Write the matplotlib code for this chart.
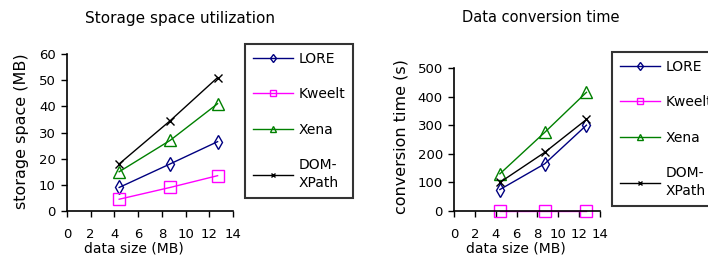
import matplotlib.pyplot as plt

plt.rcParams['font.family'] = ['DejaVu Sans']

sizes = [4.4, 8.7, 12.7]
series = ['LORE', 'Kweelt', 'Xena', 'DOM-\nXPath']

storage_lore = [9, 18, 26.5]
storage_kweelt = [4.5, 9, 13.5]
storage_xena = [15, 27, 41]
storage_dom = [18, 34.5, 51]

conv_lore = [75, 165, 300]
conv_kweelt = [0, 0, 0]
conv_xena = [130, 275, 415]
conv_dom = [100, 205, 320]

colors = ['#000080', '#ff00ff', '#008000', '#000000']
markers = ['d', 's', '^', 'x']
msizes = [7.5, 8, 8, 6]

W, H = 708, 260
fig = plt.figure(figsize=(W / 100, H / 100), dpi=100)


def box(x0, y0, x1, y1):
    # pixel box -> figure fraction
    return [x0 / W, 1 - y1 / H, (x1 - x0) / W, (y1 - y0) / H]


def panel(px, data, ymax, ystep, ylabel, ylab_xy, xlab_xy, title, legend_xy):
    ax = fig.add_axes(box(*px))
    for vals, c, m, ms, name in zip(data, colors, markers, msizes, series):
        ax.plot(sizes, vals, color=c, marker=m, markersize=ms, mfc='none',
                mec=c, mew=1, lw=1, label=name, clip_on=False)
    ax.set_xlim(0, 14)
    ax.set_ylim(0, ymax)
    ax.set_xticks(range(0, 15, 2))
    ax.set_yticks(range(0, ymax + 1, ystep))
    for s in ['top', 'right']:
        ax.spines[s].set_visible(False)
    ax.spines['left'].set_linewidth(1.2)
    ax.spines['bottom'].set_linewidth(1.2)
    ax.tick_params(labelsize=9.5, length=4, width=1, direction='out', pad=4)
    ax.tick_params(axis='x', pad=8)
    w = px[2] - px[0]
    h = px[3] - px[1]
    ax.set_xlabel('data size (MB)', fontsize=10)
    ax.set_ylabel(ylabel, fontsize=11.5)
    ax.xaxis.set_label_coords((xlab_xy[0] - px[0]) / w, (px[3] - xlab_xy[1]) / h)
    ax.yaxis.set_label_coords((ylab_xy[0] - px[0]) / w, (px[3] - ylab_xy[1]) / h)
    fig.text(title[1] / W, 1 - title[2] / H, title[0], fontsize=title[3],
             ha='center', va='center')
    hs, ls = ax.get_legend_handles_labels()
    leg = fig.legend(hs, ls, loc='upper left',
                     bbox_to_anchor=(legend_xy[0] / W, 1 - legend_xy[1] / H),
                     frameon=True, fancybox=False, fontsize=10,
                     markerscale=0.6, handlelength=2.9, labelspacing=1.55,
                     borderpad=0.55, handletextpad=0.4, borderaxespad=0)
    for t in leg.get_texts():
        t.set_linespacing(1.35)
    leg.get_frame().set_edgecolor('black')
    leg.get_frame().set_linewidth(1.5)
    return ax


panel((67, 54, 233, 211),
      [storage_lore, storage_kweelt, storage_xena, storage_dom],
      60, 10, 'storage space (MB)', (29, 131), (134, 241),
      ('Storage space utilization', 180, 18, 11), (245, 44))
panel((454, 68, 600, 211),
      [conv_lore, conv_kweelt, conv_xena, conv_dom],
      500, 100, 'conversion time (s)', (408, 137), (516, 241),
      ('Data conversion time', 541, 18, 10.5), (612, 52))

fig.savefig('out.png', dpi=100)
